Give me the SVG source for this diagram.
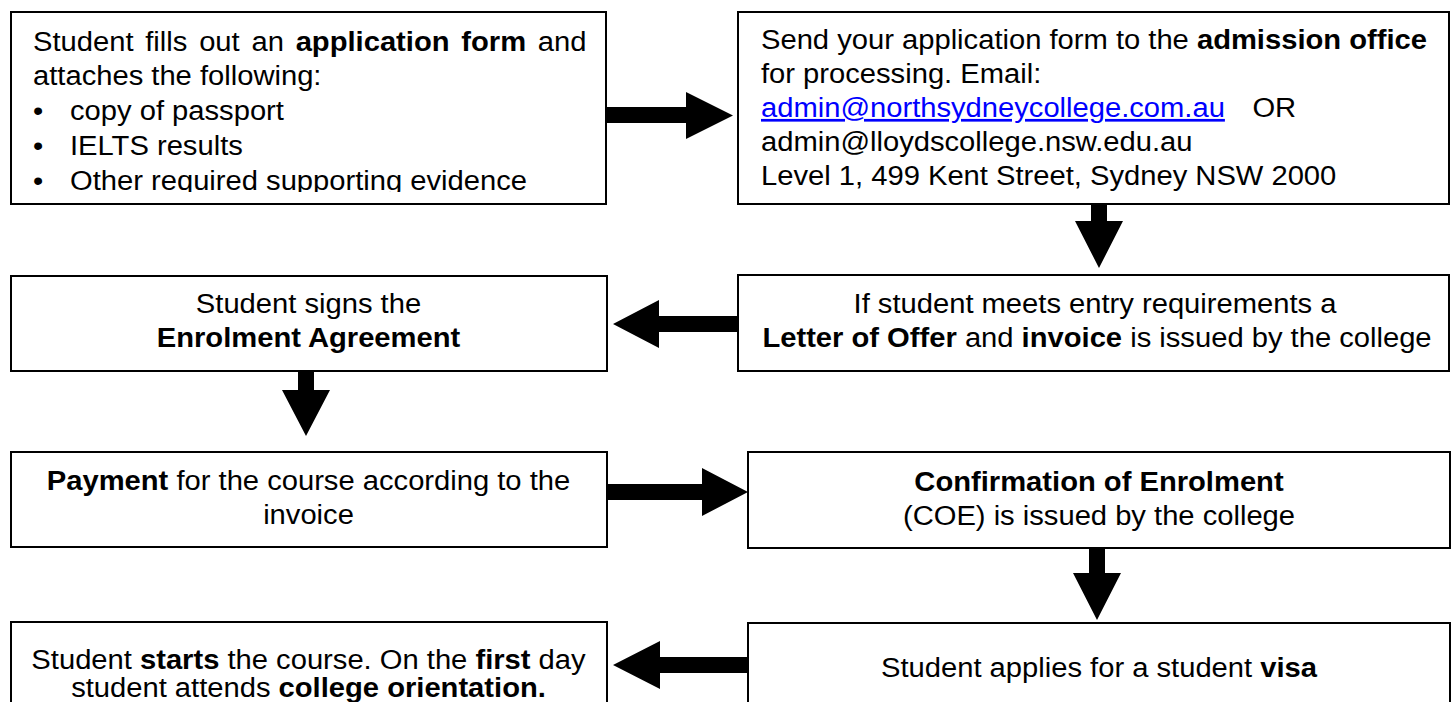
<svg xmlns="http://www.w3.org/2000/svg" width="1454" height="702" viewBox="0 0 1454 702">
<style>
.box{fill:#fff;stroke:#000;stroke-width:2}
.t{font-family:"Liberation Sans",Arial,sans-serif;font-size:27px;fill:#000}
.b{font-weight:bold}
.m{text-anchor:middle}
.lnk{fill:#0000ff;text-decoration:underline}
.arr{fill:#000;stroke:none}
</style>
<defs>
<clipPath id="clip1" clipPathUnits="userSpaceOnUse"><rect x="0" y="0" width="620" height="192"/></clipPath>
</defs>
<rect width="1454" height="702" fill="#fff"/>
<g id="node-application">
<rect class="box" x="11" y="12" width="595" height="192"/>
<g clip-path="url(#clip1)">
<text class="t" transform="translate(33,51) scale(1.08,1)" word-spacing="3.4">Student fills out an <tspan class="b">application form</tspan> and</text>
<text class="t" transform="translate(33,85) scale(1.08,1)">attaches the following:</text>
<text class="t" transform="translate(33,120) scale(1.08,1)">•</text>
<text class="t" transform="translate(70,120) scale(1.08,1)">copy of passport</text>
<text class="t" transform="translate(33,155) scale(1.08,1)">•</text>
<text class="t" transform="translate(70,155) scale(1.08,1)">IELTS results</text>
<text class="t" transform="translate(33,190) scale(1.08,1)">•</text>
<text class="t" transform="translate(70,190) scale(1.08,1)">Other required supporting evidence</text>
</g>
</g>
<g id="node-admission">
<rect class="box" x="738" y="12" width="711" height="192"/>
<text class="t" transform="translate(761,49) scale(1.08,1)">Send your application form to the <tspan class="b">admission office</tspan></text>
<text class="t" transform="translate(761,83) scale(1.08,1)">for processing. Email:</text>
<text class="t" transform="translate(761,117) scale(1.08,1)"><tspan class="lnk">admin@northsydneycollege.com.au</tspan><tspan x="455">OR</tspan></text>
<text class="t" transform="translate(761,151) scale(1.08,1)">admin@lloydscollege.nsw.edu.au</text>
<text class="t" transform="translate(761,185) scale(1.08,1)">Level 1, 499 Kent Street, Sydney NSW 2000</text>
</g>
<g id="node-offer">
<rect class="box" x="738" y="275" width="711" height="96"/>
<text class="t m" transform="translate(1095,313) scale(1.08,1)">If student meets entry requirements a</text>
<text class="t m" transform="translate(1097,347) scale(1.08,1)"><tspan class="b">Letter of Offer</tspan> and <tspan class="b">invoice</tspan> is issued by the college</text>
</g>
<g id="node-agreement">
<rect class="box" x="11" y="276" width="596" height="95"/>
<text class="t m" transform="translate(308.5,313) scale(1.08,1)">Student signs the</text>
<text class="t m b" transform="translate(308.5,347) scale(1.08,1)">Enrolment Agreement</text>
</g>
<g id="node-payment">
<rect class="box" x="11" y="452" width="596" height="95"/>
<text class="t m" transform="translate(308.5,490) scale(1.08,1)"><tspan class="b">Payment</tspan> for the course according to the</text>
<text class="t m" transform="translate(308.5,524) scale(1.08,1)">invoice</text>
</g>
<g id="node-coe">
<rect class="box" x="748" y="452" width="702" height="96"/>
<text class="t m b" transform="translate(1099,491) scale(1.08,1)">Confirmation of Enrolment</text>
<text class="t m" transform="translate(1099,525) scale(1.08,1)">(COE) is issued by the college</text>
</g>
<g id="node-visa">
<rect class="box" x="748" y="623" width="702" height="100"/>
<text class="t m" transform="translate(1099,677) scale(1.08,1)">Student applies for a student <tspan class="b">visa</tspan></text>
</g>
<g id="node-start">
<rect class="box" x="11" y="622" width="596" height="100"/>
<text class="t m" transform="translate(308.5,669) scale(1.08,1)">Student <tspan class="b">starts</tspan> the course. On the <tspan class="b">first</tspan> day</text>
<text class="t m" transform="translate(308.5,697) scale(1.08,1)">student attends <tspan class="b">college orientation.</tspan></text>
</g>
<g id="connectors">
<path class="arr" d="M607,107 H686 V92 L733,115.5 L686,139 V123 H607 Z"/>
<path class="arr" d="M1091,205 V221 H1075 L1099,268 L1123,221 H1107 V205 Z"/>
<path class="arr" d="M737,316 H659 V300 L613,324 L659,348 V332 H737 Z"/>
<path class="arr" d="M298,372 V390 H282 L306,436 L330,390 H314 V372 Z"/>
<path class="arr" d="M608,484 H702 V468 L748,492 L702,516 V500 H608 Z"/>
<path class="arr" d="M1089,549 V573 H1073 L1097,620 L1121,573 H1105 V549 Z"/>
<path class="arr" d="M747,657 H660 V641 L613,665 L660,689 V673 H747 Z"/>
</g>
</svg>
